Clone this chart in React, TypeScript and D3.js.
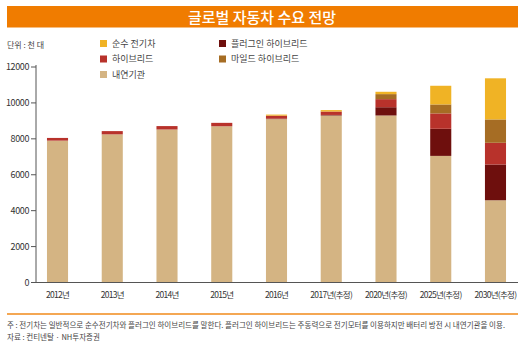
import React from "react";
import * as d3 from "d3";

const categories = ["2012년", "2013년", "2014년", "2015년", "2016년", "2017년(추정)", "2020년(추정)", "2025년(추정)", "2030년(추정)"];
const ice = [7900, 8250, 8520, 8700, 9100, 9300, 9300, 7050, 4580];
const hybrid = [150, 180, 190, 190, 170, 190, 450, 855, 1210];
const plugin = [0, 0, 0, 0, 20, 30, 460, 1510, 1990];
const mild = [0, 0, 0, 0, 0, 0, 280, 500, 1300];
const bev = [0, 0, 0, 0, 60, 80, 130, 1040, 2290];
const yTicks = [0, 2000, 4000, 6000, 8000, 10000, 12000];

const seriesKeys = ["ice", "plugin", "hybrid", "mild", "bev"];
const seriesColors: Record<string, string> = {
  ice: "#d4b483",
  hybrid: "#b8322b",
  plugin: "#6e0f0d",
  mild: "#a66d24",
  bev: "#f0b325",
};
const legendItems = [
  { key: "bev", label: "순수 전기차", col: 0, row: 0 },
  { key: "hybrid", label: "하이브리드", col: 0, row: 1 },
  { key: "ice", label: "내연기관", col: 0, row: 2 },
  { key: "plugin", label: "플러그인 하이브리드", col: 1, row: 0 },
  { key: "mild", label: "마일드 하이브리드", col: 1, row: 1 },
];

const FONT = "'Noto Sans CJK KR', 'Noto Sans', sans-serif";

export default function App() {
  const W = 520, H = 353;
  const x0 = 36, x1 = 518;
  const yBase = 282.5, yTop = 67;
  const rows = categories.map((c, i) => ({ cat: c, ice: ice[i], hybrid: hybrid[i], plugin: plugin[i], mild: mild[i], bev: bev[i] }));
  const stack = d3.stack<any>().keys(seriesKeys)(rows);
  const x = d3.scaleBand().domain(categories).range([30, 523]).paddingInner(0.615).paddingOuter(0.31);
  const y = d3.scaleLinear().domain([0, 12000]).range([yBase, yTop]);

  return (
    <svg width={W} height={H} style={{ position: "absolute", left: 0, top: 0, background: "#fff" }} fontFamily={FONT}>
      <rect x={7} y={6} width={511} height={21.5} fill="#f07c00" />
      <text x={262} y={22.5} textAnchor="middle" fill="#fff" fontSize={15} fontWeight={500}>글로벌 자동차 수요 전망</text>
      <text x={7} y={48} fontSize={8} fill="#444">단위 : 천 대</text>
      {legendItems.map((l) => {
        const lx = l.col === 0 ? 100 : 219;
        const ly = 43.5 + l.row * 15.5;
        return (
          <g key={l.key}>
            <rect x={lx} y={ly - 3.5} width={7} height={7} fill={seriesColors[l.key]} />
            <text x={lx + 12} y={ly + 3.2} fontSize={9} fill="#444">{l.label}</text>
          </g>
        );
      })}
      {stack.map((s) => (
        <g key={s.key} fill={seriesColors[s.key]}>
          {s.map((d, i) => (
            <rect key={i} x={x(categories[i])} width={x.bandwidth()} y={y(d[1])} height={Math.max(0, y(d[0]) - y(d[1]))} />
          ))}
        </g>
      ))}
      <line x1={x0} x2={x0} y1={yTop - 2} y2={yBase} stroke="#555" strokeWidth={1} />
      <line x1={x0} x2={x1} y1={yBase} y2={yBase} stroke="#555" strokeWidth={1} />
      {yTicks.map((t) => (
        <g key={t}>
          <line x1={31} x2={x0} y1={y(t)} y2={y(t)} stroke="#555" strokeWidth={1} />
          <text x={29} y={y(t) + 3.2} textAnchor="end" fontSize={9} fill="#333" letterSpacing={-0.4}>{t}</text>
        </g>
      ))}
      {categories.map((c) => (
        <text key={c} x={(x(c) as number) + x.bandwidth() / 2} y={298} textAnchor="middle" fontSize={8.5} fill="#333" letterSpacing={-0.7}>{c}</text>
      ))}
      <line x1={7} x2={518} y1={314} y2={314} stroke="#f08a1a" strokeWidth={1.5} />
      <text x={7} y={328} fontSize={7.5} fill="#444" textLength={498} lengthAdjust="spacingAndGlyphs">주 : 전기차는 일반적으로 순수전기차와 플러그인 하이브리드를 말한다. 플러그인 하이브리드는 주동력으로 전기모터를 이용하지만 배터리 방전 시 내연기관을 이용.</text>
      <text x={7} y={340} fontSize={7.5} fill="#444">자료 : 컨티넨탈 · NH투자증권</text>
    </svg>
  );
}
